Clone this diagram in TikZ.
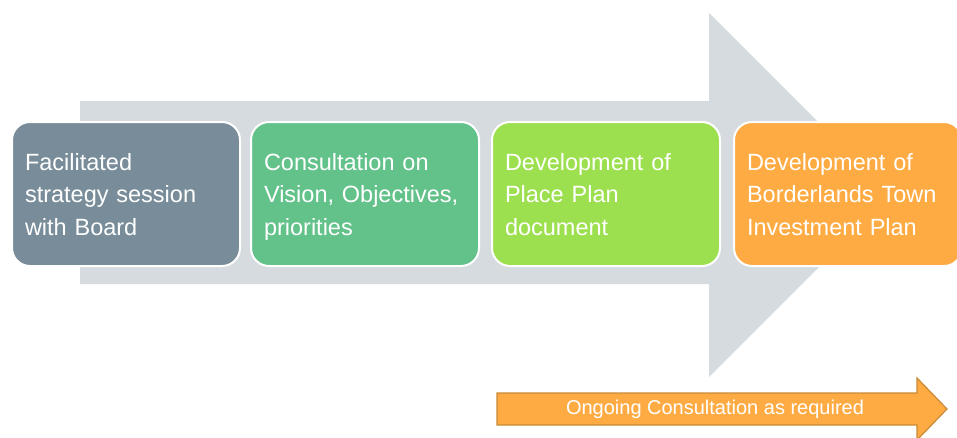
\documentclass[tikz,border=0pt]{standalone}
\usepackage{fontspec}
\setmainfont{Liberation Sans}
\usetikzlibrary{positioning}
\definecolor{arrowgrey}{HTML}{D5DBDE}
\definecolor{slate}{HTML}{788D99}
\definecolor{seagreen}{HTML}{63C28A}
\definecolor{limegreen}{HTML}{9DE04F}
\definecolor{amber}{HTML}{FFAB43}
\definecolor{amberdark}{HTML}{C98A35}
\begin{document}
\begin{tikzpicture}[x=1pt,y=-1pt]
\tikzstyle{stage}=[draw=white,line width=2pt,rounded corners=18pt,text=white,
  align=left,text width=202pt,inner xsep=13pt,minimum height=144pt,
  font=\fontsize{23.5}{32.5}\selectfont,
  execute at begin node={\rule{0pt}{26.75pt}},execute at end node=\strut];
\useasboundingbox (0,0) rectangle (957,437);
\clip (0,0) rectangle (957,437);
% big grey arrow
\fill[arrowgrey] (80,101) -- (709,101) -- (709,13) -- (891,195)
  -- (709,377) -- (709,284) -- (80,284) -- cycle;
\node[stage,fill=slate,anchor=north west] (strategy) at (11,121)
  {Facilitated\\strategy session\\with Board};
\node[stage,fill=seagreen,right=9pt of strategy] (vision)
  {Consultation on\\Vision, Objectives,\\priorities};
\node[stage,fill=limegreen,right=11pt of vision] (placeplan)
  {Development of\\Place Plan\\document};
\node[stage,fill=amber,right=12pt of placeplan] (investment)
  {Development of\\Borderlands Town\\Investment Plan};
% ongoing consultation arrow
\draw[fill=amber,draw=amberdark,line width=1.2pt,line join=miter]
  (497,393) -- (917,393) -- (917,378) -- (947,409) -- (917,440)
  -- (917,425) -- (497,425) -- cycle;
\node[text=white,font=\fontsize{20}{22}\selectfont] (ongoing) at (715,409)
  {Ongoing Consultation as required};
\end{tikzpicture}
\end{document}
